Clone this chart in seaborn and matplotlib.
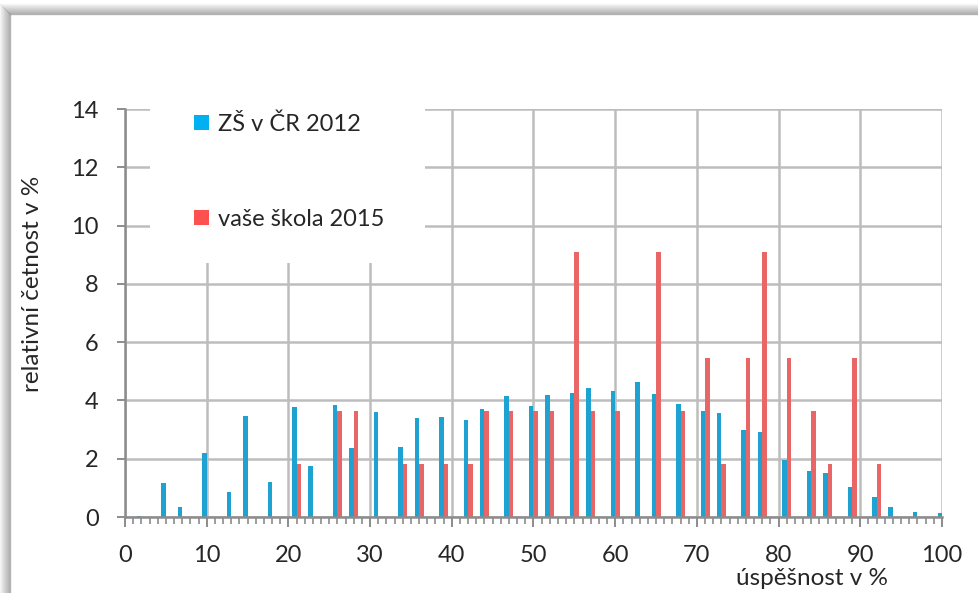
import pandas as pd
import seaborn as sns
import matplotlib.pyplot as plt
from matplotlib.patches import Patch, Rectangle
from matplotlib.lines import Line2D
from matplotlib.ticker import MultipleLocator

# data
score_zs = [2, 5, 7, 10, 13, 15, 18, 21, 23, 26, 28, 31, 34, 36, 39, 42, 44, 47, 50, 52,
            55, 57, 60, 63, 65, 68, 71, 73, 76, 78, 81, 84, 86, 89, 92, 94, 97, 100]
pct_zs = [0.04, 1.15, 0.33, 2.2, 0.85, 3.48, 1.21, 3.79, 1.74, 3.84, 2.36, 3.6, 2.41, 3.38,
          3.44, 3.33, 3.72, 4.16, 3.82, 4.19, 4.26, 4.43, 4.32, 4.64, 4.23, 3.89, 3.63, 3.56,
          2.98, 2.93, 1.97, 1.59, 1.51, 1.02, 0.67, 0.33, 0.16, 0.13]

score_skola = [21, 26, 28, 34, 36, 39, 42, 44, 47, 50, 52, 55, 57, 60, 65, 68, 71, 73, 76,
               78, 81, 84, 86, 89, 92]
pct_skola = [1.82, 3.64, 3.64, 1.82, 1.82, 1.82, 1.82, 3.64, 3.64, 3.64, 3.64, 9.09, 3.64,
             3.64, 9.09, 3.64, 5.45, 1.82, 5.45, 9.09, 5.45, 3.64, 1.82, 5.45, 1.82]

series_names = ["ZŠ v ČR 2012", "vaše škola 2015"]
colors = ["#00B0F0", "#FF5050"]

df = pd.concat([
    pd.DataFrame({"score": score_zs, "pct": pct_zs, "serie": series_names[0]}),
    pd.DataFrame({"score": score_skola, "pct": pct_skola, "serie": series_names[1]}),
])

sns.set_style("white")
plt.rcParams['font.family'] = ['Lato', 'DejaVu Sans']
plt.rcParams['font.size'] = 17

W, H = 979, 593
fig = plt.figure(figsize=(W / 100, H / 100), dpi=100)
ax = fig.add_axes([125 / W, 1 - 517 / H, 817 / W, 408 / H])

sns.barplot(data=df, x="score", y="pct", hue="serie", hue_order=series_names,
            palette=colors, native_scale=True, width=0.55, errorbar=None,
            linewidth=0, legend=False, ax=ax, zorder=2)

ax.set_xlim(0, 100)
ax.set_ylim(0, 14)
ax.set_yticks(range(0, 15, 2))
ax.xaxis.set_major_locator(MultipleLocator(10))
ax.xaxis.set_minor_locator(MultipleLocator(1))

grid_c = "#BDBDBD"
ax.set_axisbelow(True)
ax.grid(True, which="major", color=grid_c, linewidth=1.8)
for s in ["top", "right"]:
    ax.spines[s].set_visible(False)
for s in ["left", "bottom"]:
    ax.spines[s].set_color("#8C8C8C")
    ax.spines[s].set_linewidth(1.8)

ax.tick_params(axis="y", which="major", length=6, width=1.4, color="#8C8C8C",
               pad=13, labelsize=17, left=True)
ax.tick_params(axis="x", which="major", length=7, width=1.4, color="#8C8C8C",
               pad=13, labelsize=17, bottom=True)
ax.tick_params(axis="x", which="minor", length=5, width=1.2, color="#8C8C8C", bottom=True)

ax.set_xlabel("úspěšnost v %", fontsize=17.5)
ax.xaxis.set_label_coords(0.841, -0.15)
ax.xaxis.label.set_va("center")
ax.set_ylabel("relativní četnost v %", fontsize=17.5)
ax.yaxis.set_label_coords(-0.113, 0.571)
ax.yaxis.label.set_va("center")

# white legend area hiding the grid
ax.add_patch(Rectangle((25 / 817, (517 - 263) / 408), 275 / 817, 0.45,
                       facecolor="white", edgecolor="none", zorder=1,
                       transform=ax.transAxes, clip_on=False))
handles = [Patch(facecolor=c, edgecolor="none", label=n) for c, n in zip(colors, series_names)]
ax.legend(handles=handles, loc="upper left", bbox_to_anchor=(69 / 817, 0.99),
          frameon=False, borderpad=0, borderaxespad=0, handlelength=0.63,
          handleheight=0.58, handletextpad=0.37, labelspacing=3.15, fontsize=17)

# chart frame with soft shadow on top and left
for i in range(11):
    a = 0.55 * (1 - i / 11)
    fig.add_artist(Line2D([(10 - i) / W] * 2, [0, 1 - (14 - i) / H],
                          transform=fig.transFigure, color="#808080", alpha=a, lw=1))
    fig.add_artist(Line2D([(10 - i) / W, 1], [1 - (14 - i) / H] * 2,
                          transform=fig.transFigure, color="#808080", alpha=a, lw=1))

fig.savefig("out.png", dpi=100)
